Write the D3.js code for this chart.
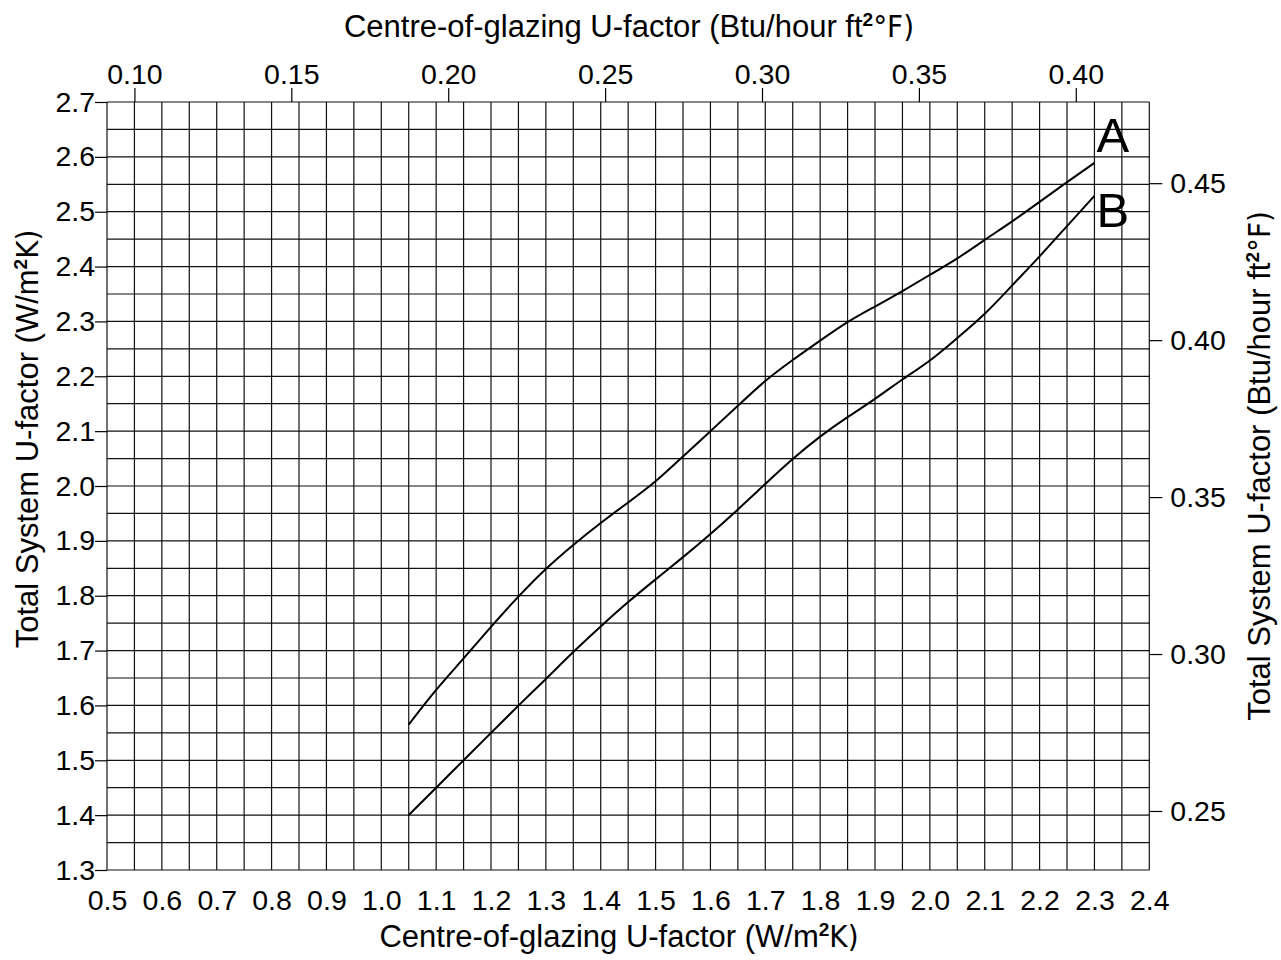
<!DOCTYPE html>
<html>
<head>
<meta charset="utf-8">
<script src="https://cdn.jsdelivr.net/npm/d3@7"></script>
<style>
body { margin: 0; background: #fff; }
text { font-family: "Liberation Sans", Arial, sans-serif; fill: #000; }
</style>
</head>
<body>
<svg class="chart"></svg>
<script>
// centre-of-glazing U (W/m2K) sampled every 0.05
var uGlazing = [1.05, 1.10, 1.15, 1.20, 1.25, 1.30, 1.35, 1.40, 1.45, 1.50, 1.55, 1.60, 1.65,
                1.70, 1.75, 1.80, 1.85, 1.90, 1.95, 2.00, 2.05, 2.10, 2.15, 2.20, 2.25, 2.30];
var seriesA = [1.565, 1.630, 1.685, 1.744, 1.799, 1.850, 1.893, 1.933, 1.970, 2.007, 2.054, 2.100, 2.146,
               2.193, 2.230, 2.265, 2.300, 2.327, 2.355, 2.385, 2.414, 2.449, 2.482, 2.518, 2.554, 2.589];
var seriesB = [1.400, 1.450, 1.500, 1.550, 1.600, 1.648, 1.698, 1.744, 1.789, 1.830, 1.870, 1.912, 1.957,
               2.004, 2.050, 2.091, 2.126, 2.158, 2.195, 2.227, 2.270, 2.312, 2.366, 2.418, 2.474, 2.529];
var seriesNames = ["A", "B"];

var bottomTicks = [0.5, 0.6, 0.7, 0.8, 0.9, 1.0, 1.1, 1.2, 1.3, 1.4, 1.5, 1.6, 1.7, 1.8, 1.9, 2.0, 2.1, 2.2, 2.3, 2.4];
var leftTicks = [1.3, 1.4, 1.5, 1.6, 1.7, 1.8, 1.9, 2.0, 2.1, 2.2, 2.3, 2.4, 2.5, 2.6, 2.7];
var topTicks = [0.10, 0.15, 0.20, 0.25, 0.30, 0.35, 0.40];   // Btu/hour ft2 F
var rightTicks = [0.25, 0.30, 0.35, 0.40, 0.45];

var width = 1281;
var height = 960;

var chart = d3.select(".chart")
    .attr("width", width)
    .attr("height", height);

var x = d3.scaleLinear().domain([0.5, 2.4]).range([107, 1149.3]);
var y = d3.scaleLinear().domain([1.3, 2.7]).range([870, 102]);

// imperial scales as printed on the original figure
var xTop = d3.scaleLinear().domain([0.10, 0.40]).range([x(0.55), x(2.266)]);
var yRight = d3.scaleLinear().domain([0.25, 0.45]).range([y(1.4076), y(2.552)]);

var g = chart.append("g");

// grid every 0.05
var gridX = d3.range(0.5, 2.4001, 0.05);
var gridY = d3.range(1.3, 2.7001, 0.05);

g.selectAll("line.gx")
    .data(gridX)
    .enter()
    .append("line")
    .attr("class", "gx")
    .attr("x1", function(d) { return x(d); })
    .attr("x2", function(d) { return x(d); })
    .attr("y1", y(1.3))
    .attr("y2", y(2.7))
    .attr("stroke", "#111")
    .attr("stroke-width", 1.2);

g.selectAll("line.gy")
    .data(gridY)
    .enter()
    .append("line")
    .attr("class", "gy")
    .attr("y1", function(d) { return y(d); })
    .attr("y2", function(d) { return y(d); })
    .attr("x1", x(0.5))
    .attr("x2", x(2.4))
    .attr("stroke", "#111")
    .attr("stroke-width", 1.2);

// axes
var fmt1 = d3.format(".1f");
var fmt2 = d3.format(".2f");

var bottomAxis = chart.append("g")
    .attr("transform", "translate(0," + y(1.3) + ")")
    .call(d3.axisBottom(x).tickValues(bottomTicks).tickFormat(fmt1).tickSize(0).tickPadding(20));

var leftAxis = chart.append("g")
    .attr("transform", "translate(" + x(0.5) + ",0)")
    .call(d3.axisLeft(y).tickValues(leftTicks).tickFormat(fmt1).tickSize(12).tickPadding(0));

var topAxis = chart.append("g")
    .attr("transform", "translate(0," + y(2.7) + ")")
    .call(d3.axisTop(xTop).tickValues(topTicks).tickFormat(fmt2).tickSize(14).tickPadding(4));

var rightAxis = chart.append("g")
    .attr("transform", "translate(" + x(2.4) + ",0)")
    .call(d3.axisRight(yRight).tickValues(rightTicks).tickFormat(fmt2).tickSize(13).tickPadding(8));

chart.selectAll(".domain").remove();
chart.selectAll(".tick line").attr("stroke", "#000").attr("stroke-width", 1.2);
chart.selectAll(".tick text")
    .attr("font-family", null)
    .style("font-size", "28.5px")
    .attr("fill", "#000");

// curves
var line = d3.line()
    .x(function(d) { return x(d[0]); })
    .y(function(d) { return y(d[1]); })
    .curve(d3.curveBasis);

[seriesA, seriesB].forEach(function(vals, i) {
    var pts = uGlazing.map(function(u, j) { return [u, vals[j]]; });
    g.append("path")
        .datum(pts)
        .attr("d", line)
        .attr("fill", "none")
        .attr("stroke", "#000")
        .attr("stroke-width", 2);
    g.append("text")
        .attr("x", x(uGlazing[uGlazing.length - 1]) + 2)
        .attr("y", y(vals[vals.length - 1]) + (i == 0 ? -11 : 31))
        .style("font-size", "49px")
        .text(seriesNames[i]);
});

// axis titles
function title(sel, main, sup, tail) {
    sel.append("tspan").text(main);
    sel.append("tspan").attr("dy", -11).style("font-size", "19px").style("font-weight", "bold").text(sup);
    sel.append("tspan").attr("dy", 11).attr("font-family", "DejaVu Sans Condensed").text(tail);
}

chart.append("text")
    .attr("x", 629)
    .attr("y", 37)
    .attr("text-anchor", "middle")
    .style("font-size", "31px")
    .call(title, "Centre-of-glazing U-factor (Btu/hour ft", "2", "\u00B0F)");

chart.append("text")
    .attr("x", 619)
    .attr("y", 947)
    .attr("text-anchor", "middle")
    .style("font-size", "31px")
    .call(title, "Centre-of-glazing U-factor (W/m", "2", "K)");

chart.append("text")
    .attr("transform", "translate(38,439) rotate(-90)")
    .attr("text-anchor", "middle")
    .style("font-size", "31px")
    .call(title, "Total System U-factor (W/m", "2", "K)");

chart.append("text")
    .attr("transform", "translate(1270,466) rotate(-90)")
    .attr("text-anchor", "middle")
    .style("font-size", "31px")
    .call(title, "Total System U-factor (Btu/hour ft", "2", "\u00B0F)");
</script>
</body>
</html>
